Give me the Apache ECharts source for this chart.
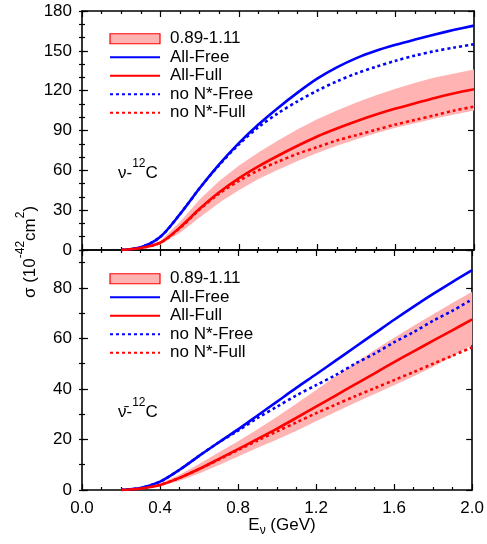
<!DOCTYPE html>
<html><head><meta charset="utf-8">
<script src="https://cdn.jsdelivr.net/npm/echarts@6/dist/echarts.min.js"></script>
<style>html,body{margin:0;padding:0;background:#fff}#c{width:487px;height:544px}</style>
</head><body><div id="c"></div>
<script>
// ---------- data ----------
const energies = [0.2,0.3,0.4,0.5,0.6,0.7,0.8,0.9,1.0,1.1,1.2,1.3,1.4,1.5,1.6,1.7,1.8,1.9,2.0];

// neutrino - 12C (top panel)
const nuAllFree  = [0,2,10,27,46.5,64.5,80.5,94.5,107,118.5,129,137.5,144.5,150,154.5,158.5,162.3,165.8,169];
const nuAllFull  = [0,1.5,5.5,17,31,43.5,54,63,71,78.5,85.5,91.5,97,102,106.5,110.5,114.5,118,121];
const nuNoNFree  = [0,2,10,27,46.5,64,79.5,92.5,103,112,120,127,133,138,142.5,146.5,149.8,152.5,155];
const nuNoNFull  = [0,1.5,5.5,16.5,30.5,42.5,52,60,66.5,72.5,77.5,82.5,86.5,90.5,94.5,98,101.5,105,108];
const nuBandHigh = [0,2,7,21,38,52,63.5,73.5,82.5,91,98.5,105,111,116.5,121.5,126,130,133,136];
const nuBandLow  = [0,1,4,13,24.5,35.5,45,53.5,60.5,67,73,78.5,83.5,88,92,95.5,99,102,105];

// anti-neutrino - 12C (bottom panel)
const nubarAllFree  = [0,0.8,3.3,8,13.5,18.8,24,29.5,35,40.5,45.8,51.2,56.6,62,67.4,72.6,77.6,82.4,87];
const nubarAllFull  = [0,0.6,2,4.8,8.3,12.2,16.2,20.2,24.3,28.6,33,37.4,41.8,46.2,50.6,54.9,59.1,63.3,67.5];
const nubarNoNFree  = [0,0.8,3.3,8,13.5,18.8,23.5,28.5,33,37.5,41.5,45.5,50,54,58.5,62.5,67,71,75.5];
const nubarNoNFull  = [0,0.6,2,4.8,8.3,12,15.8,19.6,23.2,26.8,30.4,33.8,37.1,40.3,43.5,46.7,50,53.2,56.5];
const nubarBandHigh = [0,0.8,2.6,6,10.3,14.8,19.3,24,29,34.2,39.6,45,50.3,55.4,60.3,65,69.6,74.1,78.5];
const nubarBandLow  = [0,0.4,1.5,3.7,6.5,9.8,13.3,16.7,20,23.5,27.2,30.9,34.5,38,41.5,45,48.8,52.9,57.5];

// tick labels
const xTicks = [0.0,0.4,0.8,1.2,1.6,2.0];
const topYTicks = [0,30,60,90,120,150,180];
const botYTicks = [0,20,40,60,80];
const botYMax = 95;

const seriesNames = ['0.89-1.11','All-Free','All-Full','no N*-Free','no N*-Full'];

// ---------- styling ----------
const FONT = 'Liberation Sans, Arial, sans-serif';
const BLUE = '#0000ff', RED = '#ff0000', PINK = '#ffb3b3';
const chart = echarts.init(document.getElementById('c'), null, {renderer:'canvas'});

function pairs(ys){ return energies.map((e,i)=>[e, ys[i]]); }

function xAxisPair(gridIndex, showLabels){
  const base = {
    type:'value', gridIndex, min:xTicks[0], max:xTicks[xTicks.length-1], interval:xTicks[1]-xTicks[0],
    axisLine:{show:true, onZero:false, lineStyle:{color:'#000', width:1.6}},
    axisTick:{show:true, inside:true, length:6, lineStyle:{color:'#000', width:1.2}},
    minorTick:{show:true, splitNumber:4, length:3, lineStyle:{color:'#000', width:1.2}},
    splitLine:{show:false}, minorSplitLine:{show:false}
  };
  return [
    Object.assign({}, base, {position:'bottom',
      axisLabel:{show:showLabels, color:'#000', fontFamily:FONT, fontSize:17, margin:10,
        formatter:v=>v.toFixed(1)}}),
    Object.assign({}, base, {position:'top', axisLabel:{show:false}})
  ];
}

function yAxisDefs(gridIndex, ticks, max, minorStep, showMax){
  const major = {
    type:'value', gridIndex, min:ticks[0], max:max, interval:ticks[1]-ticks[0],
    axisLine:{show:true, onZero:false, lineStyle:{color:'#000', width:1.6}},
    axisTick:{show:true, inside:true, length:6, lineStyle:{color:'#000', width:1.2}},
    splitLine:{show:false}
  };
  const minor = {
    type:'value', gridIndex, min:ticks[0], max:max, interval:minorStep,
    axisLine:{show:false}, axisLabel:{show:false},
    axisTick:{show:true, inside:true, length:3, lineStyle:{color:'#000', width:1.2}},
    splitLine:{show:false}
  };
  return [
    Object.assign({}, major, {position:'left',
      axisLabel:{show:true, color:'#000', fontFamily:FONT, fontSize:17, margin:10, showMaxLabel:showMax,
        formatter:v=> ticks.indexOf(v) >= 0 ? String(v) : ''}}),
    Object.assign({}, major, {position:'right', axisLabel:{show:false}}),
    Object.assign({}, minor, {position:'left'}),
    Object.assign({}, minor, {position:'right'})
  ];
}

function bandSeries(xi, yi, low, high){
  return {
    type:'custom', name:seriesNames[0], xAxisIndex:xi, yAxisIndex:yi, z:1, silent:true,
    data:[[energies[0], low[0], high[0]]],
    itemStyle:{color:PINK},
    renderItem:(params, api)=>{
      const pts = [];
      for (let i=0;i<energies.length;i++) pts.push(api.coord([energies[i], high[i]]));
      for (let i=energies.length-1;i>=0;i--) pts.push(api.coord([energies[i], low[i]]));
      return {type:'polygon', shape:{points:pts}, style:{fill:PINK, stroke:null}};
    }
  };
}

function lineSeries(name, xi, yi, ys, color, dotted){
  return {
    type:'line', name, xAxisIndex:xi, yAxisIndex:yi, data:pairs(ys), z:3,
    symbol:'none', smooth:0.3, silent:true,
    itemStyle:{color},
    lineStyle:{color, width:2.6, type: dotted ? [3,3] : 'solid', cap:'butt'}
  };
}

function legendDef(top){
  const hidden = {color:'rgba(0,0,0,0)', borderWidth:0, opacity:0};
  return {
    left:104, top, orient:'vertical', itemWidth:50, itemHeight:10, itemGap:1,
    selectedMode:false,
    textStyle:{color:'#000', fontFamily:FONT, fontSize:17, lineHeight:17.5, padding:[0,0,0,5]},
    data:[
      {name:seriesNames[0], icon:'rect', itemStyle:{color:PINK, borderColor:RED, borderWidth:1.2}},
      {name:seriesNames[1], itemStyle:hidden}, {name:seriesNames[2], itemStyle:hidden},
      {name:seriesNames[3], itemStyle:hidden}, {name:seriesNames[4], itemStyle:hidden}
    ]
  };
}

const xAxes = [...xAxisPair(0,false), ...xAxisPair(1,true)];
const yAxes = [...yAxisDefs(0, topYTicks, topYTicks[topYTicks.length-1], 10, true),
               ...yAxisDefs(1, botYTicks, botYMax, 10, false)];

const option = {
  animation:false,
  backgroundColor:'#fff',
  grid:[
    {left:82, top:11, width:392, height:239},
    {left:82, top:250, width:392, height:240}
  ],
  xAxis:xAxes,
  yAxis:yAxes,
  legend:[legendDef(25), legendDef(265)],
  series:[
    bandSeries(0,0,nuBandLow,nuBandHigh),
    lineSeries(seriesNames[3],0,0,nuNoNFree,BLUE,true),
    lineSeries(seriesNames[4],0,0,nuNoNFull,RED,true),
    lineSeries(seriesNames[1],0,0,nuAllFree,BLUE,false),
    lineSeries(seriesNames[2],0,0,nuAllFull,RED,false),
    bandSeries(2,4,nubarBandLow,nubarBandHigh),
    lineSeries(seriesNames[3],2,4,nubarNoNFree,BLUE,true),
    lineSeries(seriesNames[4],2,4,nubarNoNFull,RED,true),
    lineSeries(seriesNames[1],2,4,nubarAllFree,BLUE,false),
    lineSeries(seriesNames[2],2,4,nubarAllFull,RED,false)
  ],
  graphic:[
    {type:'text', x:27, y:252, rotation:Math.PI/2,
      style:{text:'{a|σ (10}{s|-42}{a|cm}{s|2}{a|)}', align:'center', verticalAlign:'middle',
        textAlign:'center', textVerticalAlign:'middle', fill:'#000',
        rich:{a:{fontFamily:FONT, fontSize:17, lineHeight:24, verticalAlign:'bottom', fill:'#000'},
              s:{fontFamily:FONT, fontSize:12, lineHeight:12, verticalAlign:'top', fill:'#000'}}}},
    {type:'text', x:282, y:527,
      style:{text:'{a|E}{b|ν}{a| (GeV)}', align:'center', verticalAlign:'middle',
        textAlign:'center', textVerticalAlign:'middle', fill:'#000',
        rich:{a:{fontFamily:FONT, fontSize:17, lineHeight:20, verticalAlign:'top', fill:'#000'},
              b:{fontFamily:FONT, fontSize:12, lineHeight:12, verticalAlign:'bottom', fill:'#000'}}}},
    {type:'text', x:118, y:170,
      style:{text:'{a|ν-}{s|12}{a|C}', align:'left', verticalAlign:'middle',
        textAlign:'left', textVerticalAlign:'middle', fill:'#000',
        rich:{a:{fontFamily:FONT, fontSize:17, lineHeight:24, verticalAlign:'bottom', fill:'#000'},
              s:{fontFamily:FONT, fontSize:12, lineHeight:12, verticalAlign:'top', fill:'#000'}}}},
    {type:'text', x:118, y:409,
      style:{text:'{a|ν\u0304-}{s|12}{a|C}', align:'left', verticalAlign:'middle',
        textAlign:'left', textVerticalAlign:'middle', fill:'#000',
        rich:{a:{fontFamily:FONT, fontSize:17, lineHeight:24, verticalAlign:'bottom', fill:'#000'},
              s:{fontFamily:FONT, fontSize:12, lineHeight:12, verticalAlign:'top', fill:'#000'}}}}
  ]
};
chart.setOption(option);
</script>
</body></html>
